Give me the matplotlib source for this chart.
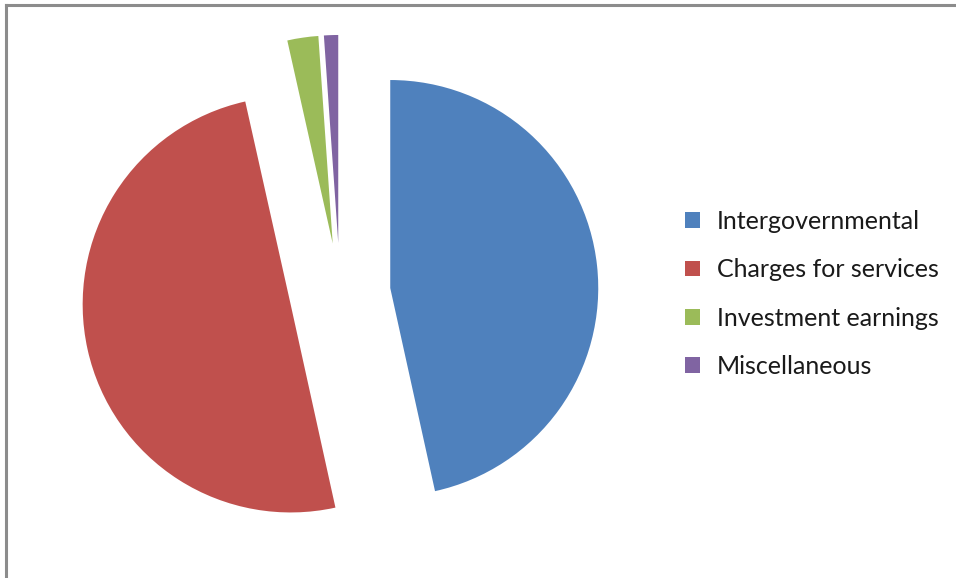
import matplotlib.pyplot as plt
from matplotlib.lines import Line2D

labels = ['Intergovernmental', 'Charges for services', 'Investment earnings', 'Miscellaneous']
values = [46.5, 49.9, 2.4, 1.1]
colors = ['#4F81BD', '#C0504D', '#9BBB59', '#8064A2']

W, H = 956, 578
fig = plt.figure(figsize=(W / 100, H / 100), dpi=100)
ax = fig.add_axes([0, 0, 1, 1])

# pie radius 1 == 208 px, center at (340, 293.5) px from top-left
R = 208.0
cx, cy = 340.0, 293.5

wedges, _ = ax.pie(values, colors=colors, startangle=90, counterclock=False,
                   explode=[0.243] * len(values), radius=1,
                   wedgeprops=dict(linewidth=0), labels=None)
ax.set_xlim(-cx / R, (W - cx) / R)
ax.set_ylim(-(H - cy) / R, cy / R)
ax.set_aspect('equal', adjustable='box')
ax.axis('off')

fs = 18
fpx = fs * 100 / 72
leg = ax.legend(wedges, labels, loc='upper left',
                bbox_to_anchor=(685 / W, 1 - 210 / H),
                frameon=False, prop={'family': 'Lato', 'size': fs},
                handlelength=15 / fpx, handleheight=15 / fpx,
                handletextpad=17 / fpx, labelspacing=(48.3 - (fpx - 2)) / fpx,
                borderaxespad=0, borderpad=0)
for t in leg.get_texts():
    t.set_color('#1a1a1a')

# grey frame on top and left edges
fig.add_artist(Line2D([6 / W, 6 / W], [0, 1 - 5 / H], color='#8c8c8c', lw=2.2,
                      transform=fig.transFigure))
fig.add_artist(Line2D([6 / W, 1], [1 - 5 / H, 1 - 5 / H], color='#8c8c8c', lw=2.2,
                      transform=fig.transFigure))

fig.savefig('out.png', dpi=100)
